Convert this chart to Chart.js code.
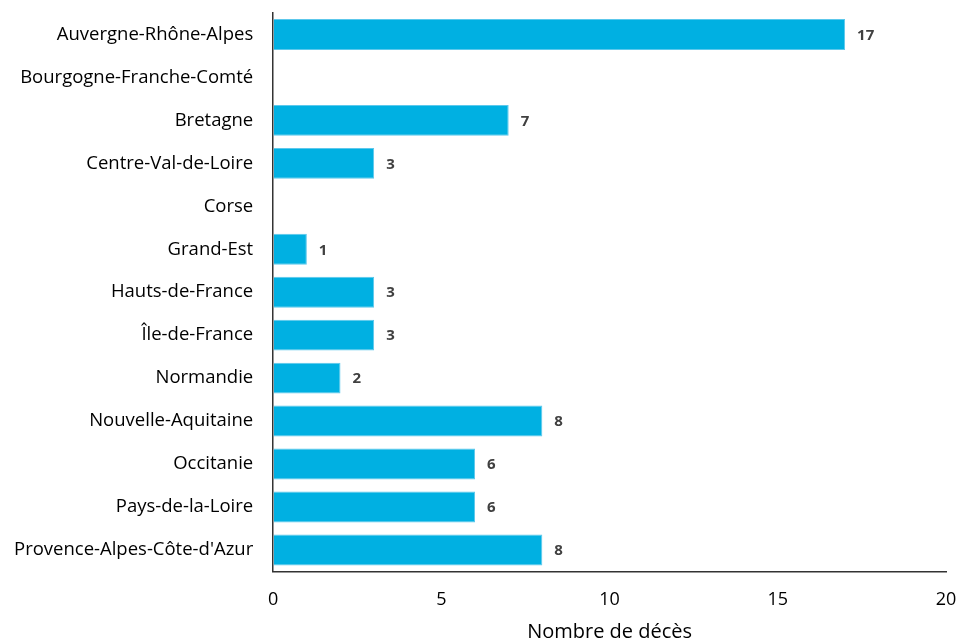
<!DOCTYPE html>
<html>
<head>
<meta charset="utf-8">
<script src="https://cdn.jsdelivr.net/npm/chart.js@4"></script>
<style>
  html, body { margin: 0; padding: 0; background: #fff; }
  #wrap { width: 959px; height: 639px; }
</style>
</head>
<body>
<div id="wrap"><canvas id="grafica"></canvas></div>
<script>
// Régions et nombre de décès
const regions = [
  'Auvergne-Rhône-Alpes', 'Bourgogne-Franche-Comté', 'Bretagne', 'Centre-Val-de-Loire',
  'Corse', 'Grand-Est', 'Hauts-de-France', 'Île-de-France', 'Normandie',
  'Nouvelle-Aquitaine', 'Occitanie', 'Pays-de-la-Loire', "Provence-Alpes-Côte-d'Azur"
];
const deces = [17, null, 7, 3, null, 1, 3, 3, 2, 8, 6, 6, 8];
const ticksX = [0, 5, 10, 15, 20];
const titreX = 'Nombre de décès';

const police = "'Open Sans', 'Liberation Sans', sans-serif";

// étiquettes de valeur à droite des barres
const etiquettes = {
  id: 'etiquettes',
  afterDatasetsDraw(chart) {
    const ctx = chart.ctx;
    const meta = chart.getDatasetMeta(0);
    ctx.save();
    ctx.font = 'bold 15px ' + police;
    ctx.fillStyle = '#404040';
    ctx.textAlign = 'left';
    ctx.textBaseline = 'middle';
    meta.data.forEach((bar, i) => {
      const v = deces[i];
      if (v === null || v === undefined) return;
      ctx.fillText(String(v), bar.x + 12, bar.y + 1);
    });
    ctx.restore();
  }
};

new Chart(document.getElementById('grafica'), {
  type: 'bar',
  data: {
    labels: regions,
    datasets: [{
      data: deces,
      backgroundColor: '#00B0E2',
      borderColor: '#5CC8EC',
      borderWidth: 1,
      categoryPercentage: 1,
      barPercentage: 0.72
    }]
  },
  options: {
    indexAxis: 'y',
    responsive: true,
    maintainAspectRatio: false,
    animation: false,
    layout: { padding: { top: 13, right: 13, left: 14, bottom: -5 } },
    plugins: { legend: { display: false }, tooltip: { enabled: false } },
    scales: {
      x: {
        min: 0, max: 20,
        afterBuildTicks: (s) => { s.ticks = ticksX.map(v => ({ value: v })); },
        grid: { drawOnChartArea: false, drawTicks: true, tickLength: 18, tickColor: 'rgba(0,0,0,0)' },
        border: { display: true, color: '#333', width: 1.5 },
        ticks: { color: '#000', padding: 0, font: { family: police, size: 18 } },
        title: { display: true, text: titreX, color: '#000', padding: { top: 9, bottom: 0 }, font: { family: police, size: 20 } }
      },
      y: {
        grid: { drawOnChartArea: false, drawTicks: true, tickLength: 20, tickColor: 'rgba(0,0,0,0)' },
        border: { display: true, color: '#333', width: 1.5 },
        ticks: { color: '#000', padding: 0, font: { family: police, size: 18.5 } }
      }
    }
  },
  plugins: [etiquettes]
});
</script>
</body>
</html>
